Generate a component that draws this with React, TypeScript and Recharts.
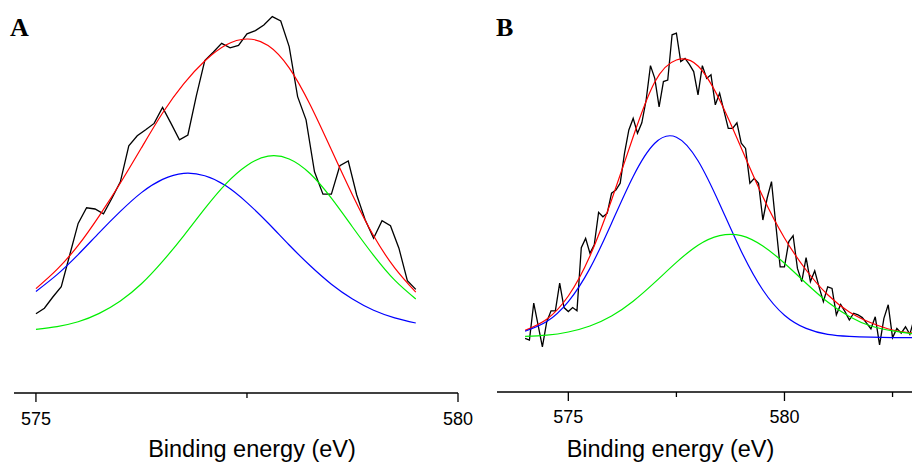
import React from 'react';
import { LineChart, Line, XAxis, YAxis } from 'recharts';

// Panel A: measured spectrum (0.1 eV steps)
const energiesA = [
  575.0, 575.1, 575.2, 575.3, 575.4, 575.5, 575.6, 575.7, 575.8, 575.9,
  576.0, 576.1, 576.2, 576.3, 576.4, 576.5, 576.6, 576.7, 576.8, 576.9,
  577.0, 577.1, 577.2, 577.3, 577.4, 577.5, 577.6, 577.7, 577.8, 577.9,
  578.0, 578.1, 578.2, 578.3, 578.4, 578.5, 578.6, 578.7, 578.8, 578.9,
  579.0, 579.1, 579.2, 579.3, 579.4, 579.5,
];
const countsA = [
  19.8, 21.2, 24.0, 26.6, 34.5, 42.4, 46.3, 46.0, 44.8, 48.7,
  52.8, 61.8, 64.3, 65.8, 67.4, 71.4, 67.4, 63.3, 64.5, 74.3,
  83.1, 85.2, 87.4, 86.3, 86.9, 89.8, 90.6, 92.0, 94.1, 93.0,
  86.6, 74.1, 68.3, 55.3, 49.7, 49.7, 56.8, 58.0, 49.5, 43.3,
  38.7, 43.1, 41.8, 36.2, 28.1, 25.9,
];

// Panel A: fit curves
const fitEnergiesA = [
  575.0, 575.25, 575.5, 575.75, 576.0, 576.25, 576.5, 576.75, 577.0, 577.25,
  577.5, 577.75, 578.0, 578.25, 578.5, 578.75, 579.0, 579.25, 579.5,
];
const envelopeA = [26.1, 30.9, 36.9, 44.3, 52.5, 61.3, 70.0, 77.3, 83.0, 87.0, 88.5, 86.9, 81.3, 72.0, 60.8, 49.5, 39.3, 31.3, 25.2];
const peak1A = [25.4, 29.6, 34.6, 40.1, 45.4, 50.1, 53.4, 54.9, 54.3, 51.8, 47.6, 42.5, 37.0, 31.8, 27.2, 23.5, 20.7, 18.8, 17.5];
const peak2A = [15.9, 16.6, 17.8, 19.9, 23.0, 27.3, 32.9, 39.3, 46.1, 52.3, 56.9, 59.2, 58.5, 54.8, 48.7, 41.5, 34.4, 28.2, 23.5];

// Panel B: measured spectrum (0.1 eV steps)
const energiesB = [
  574.0, 574.1, 574.2, 574.3, 574.4, 574.5, 574.6, 574.7, 574.8, 574.9,
  575.0, 575.1, 575.2, 575.3, 575.4, 575.5, 575.6, 575.7, 575.8, 575.9,
  576.0, 576.1, 576.2, 576.3, 576.4, 576.5, 576.6, 576.7, 576.8, 576.9,
  577.0, 577.1, 577.2, 577.3, 577.4, 577.5, 577.6, 577.7, 577.8, 577.9,
  578.0, 578.1, 578.2, 578.3, 578.4, 578.5, 578.6, 578.7, 578.8, 578.9,
  579.0, 579.1, 579.2, 579.3, 579.4, 579.5, 579.6, 579.7, 579.8, 579.9,
  580.0, 580.1, 580.2, 580.3, 580.4, 580.5, 580.6, 580.7, 580.8, 580.9,
  581.0, 581.1, 581.2, 581.3, 581.4, 581.5, 581.6, 581.7, 581.8, 581.9,
  582.0, 582.1, 582.2, 582.3, 582.4, 582.5, 582.6, 582.7, 582.8, 582.9,
  583.0,
];
const countsB = [
  13.4, 13.0, 22.2, 16.8, 11.3, 17.5, 20.3, 20.3, 27.2, 21.1,
  20.1, 21.1, 20.3, 36.1, 38.4, 34.7, 36.8, 44.9, 43.8, 44.7,
  49.7, 50.5, 52.2, 59.7, 65.5, 68.4, 64.7, 67.3, 73.0, 81.6,
  78.4, 71.3, 77.6, 78.0, 89.3, 89.7, 82.6, 83.4, 81.9, 80.1,
  74.3, 81.6, 78.4, 79.3, 71.8, 74.7, 70.3, 65.9, 65.9, 67.3,
  62.2, 60.9, 52.2, 53.4, 52.2, 43.0, 48.5, 52.6, 41.8, 31.3,
  31.3, 37.6, 39.1, 30.9, 27.6, 33.6, 27.6, 30.3, 26.3, 22.6,
  26.3, 25.9, 19.3, 21.9, 20.1, 18.0, 19.7, 19.3, 18.6, 17.2,
  15.8, 18.8, 11.8, 18.4, 21.8, 13.6, 15.9, 14.7, 16.3, 14.4,
  18.4,
];

// Panel B: fit curves
const fitEnergiesB = [
  574.0, 574.5, 575.0, 575.5, 576.0, 576.5, 577.0, 577.5, 578.0, 578.5,
  579.0, 579.5, 580.0, 580.5, 581.0, 581.5, 582.0, 582.5, 582.95,
];
const envelopeB = [15.4, 18.2, 24.0, 34.0, 48.0, 63.8, 77.5, 83.0, 81.5, 73.0, 61.0, 48.8, 38.5, 30.5, 24.3, 20.0, 17.3, 15.5, 14.8];
const peak1B = [15.2, 17.6, 22.6, 30.9, 42.2, 53.9, 62.2, 63.7, 57.8, 47.0, 35.2, 25.5, 19.2, 15.9, 14.4, 13.9, 13.7, 13.6, 13.6];
const peak2B = [13.9, 14.2, 15.0, 16.5, 19.0, 22.7, 27.4, 32.4, 36.7, 39.1, 39.1, 36.5, 32.2, 27.2, 22.5, 18.9, 16.5, 15.3, 14.6];

const ticksA = [575, 577.5, 580];
const ticksB = [575, 577.5, 580, 582.5];

const SANS = '"Liberation Sans", Arial, Helvetica, sans-serif';
const SERIF = '"Liberation Serif", "Times New Roman", serif';

const toPoints = (xs: number[], ys: number[]) => xs.map((x, i) => ({ x, y: ys[i] }));

// major ticks (every 5 eV) are longer and labelled, half-way ticks are short
const makeTick = (labelDy: number) => (props: any) => {
  const { x, y, payload } = props;
  const major = payload.value % 5 === 0;
  return (
    <g>
      <line x1={x} y1={y} x2={x} y2={y + (major ? 9 : 5)} stroke="#000" strokeWidth={1.3} />
      {major && (
        <text x={x} y={y + labelDy} textAnchor="middle" fontSize={18} fontFamily={SANS} fill="#000">
          {payload.value}
        </text>
      )}
    </g>
  );
};

interface PanelProps {
  width: number;
  margin: { top: number; right: number; bottom: number; left: number };
  domain: [number, number];
  ticks: number[];
  axisHeight: number;
  labelDy: number;
  titleDx: number;
  raw: { x: number; y: number }[];
  envelope: { x: number; y: number }[];
  peak1: { x: number; y: number }[];
  peak2: { x: number; y: number }[];
}

function SpectrumPanel(p: PanelProps) {
  return (
    <LineChart width={p.width} height={463} margin={p.margin}>
      <XAxis
        type="number"
        dataKey="x"
        domain={p.domain}
        allowDataOverflow
        ticks={p.ticks}
        interval={0}
        height={p.axisHeight}
        tickSize={0}
        tickMargin={0}
        tickLine={false}
        axisLine={{ stroke: '#000', strokeWidth: 1.5 }}
        tick={makeTick(p.labelDy)}
        label={{
          value: 'Binding energy (eV)',
          position: 'insideBottom',
          offset: 6,
          dx: p.titleDx,
          style: { fontSize: 23.5, fontFamily: SANS, fill: '#000' },
        }}
      />
      <YAxis type="number" domain={[0, 95]} hide width={0} />
      <Line data={p.raw} dataKey="y" type="linear" stroke="#000" strokeWidth={1.3} dot={false} activeDot={false} isAnimationActive={false} />
      <Line data={p.envelope} dataKey="y" type="natural" stroke="#ff0000" strokeWidth={1.2} dot={false} activeDot={false} isAnimationActive={false} />
      <Line data={p.peak1} dataKey="y" type="natural" stroke="#0000ff" strokeWidth={1.2} dot={false} activeDot={false} isAnimationActive={false} />
      <Line data={p.peak2} dataKey="y" type="natural" stroke="#00ee00" strokeWidth={1.2} dot={false} activeDot={false} isAnimationActive={false} />
    </LineChart>
  );
}

export default function App() {
  return (
    <div style={{ position: 'absolute', left: 0, top: 0, width: 912, height: 463, background: '#fff', overflow: 'hidden' }}>
      <div style={{ position: 'absolute', left: 0, top: 0 }}>
        <SpectrumPanel
          width={488}
          margin={{ top: 13, right: 30, bottom: 0, left: 14 }}
          domain={[574.74, 580]}
          ticks={ticksA}
          axisHeight={70}
          labelDy={32}
          titleDx={16}
          raw={toPoints(energiesA, countsA)}
          envelope={toPoints(fitEnergiesA, envelopeA)}
          peak1={toPoints(fitEnergiesA, peak1A)}
          peak2={toPoints(fitEnergiesA, peak2A)}
        />
      </div>
      <div style={{ position: 'absolute', left: 490, top: 0 }}>
        <SpectrumPanel
          width={422}
          margin={{ top: 12, right: 0, bottom: 0, left: 7 }}
          domain={[573.35, 582.95]}
          ticks={ticksB}
          axisHeight={71}
          labelDy={31}
          titleDx={-34}
          raw={toPoints(energiesB, countsB)}
          envelope={toPoints(fitEnergiesB, envelopeB)}
          peak1={toPoints(fitEnergiesB, peak1B)}
          peak2={toPoints(fitEnergiesB, peak2B)}
        />
      </div>
      <svg width={912} height={463} style={{ position: 'absolute', left: 0, top: 0, pointerEvents: 'none' }}>
        <text x={10} y={36} fontSize={26} fontWeight="bold" fontFamily={SERIF} fill="#000">A</text>
        <text x={496} y={36} fontSize={26} fontWeight="bold" fontFamily={SERIF} fill="#000">B</text>
      </svg>
    </div>
  );
}
